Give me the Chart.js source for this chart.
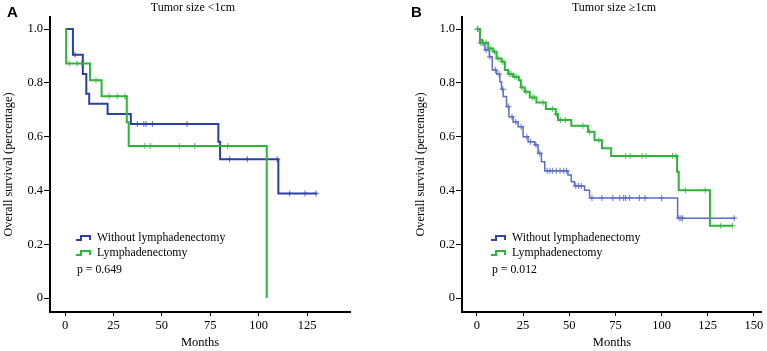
<!DOCTYPE html>
<html>
<head>
<meta charset="utf-8">
<script src="https://cdn.jsdelivr.net/npm/chart.js@4"></script>
<style>
html,body{margin:0;padding:0;background:#fff;}
body{width:767px;height:351px;position:relative;overflow:hidden;}
.panel{position:absolute;top:0;height:351px;}
#pa{left:0;width:383px;}
#pb{left:383px;width:384px;}
</style>
</head>
<body>
<div class="panel" id="pa"><canvas id="ca"></canvas></div>
<div class="panel" id="pb"><canvas id="cb"></canvas></div>
<script>
// ---------- DATA ----------
const seriesNames = ["Without lymphadenectomy", "Lymphadenectomy"];
const panelTitles = ["Tumor size <1cm", "Tumor size \u22651cm"];
const panelLetters = ["A", "B"];
const pValues = ["p = 0.649", "p = 0.012"];
const xTicksA = [0, 25, 50, 75, 100, 125];
const xTicksB = [0, 25, 50, 75, 100, 125, 150];
const yTicks = [0, 0.2, 0.4, 0.6, 0.8, 1.0];

// Panel A, without lymphadenectomy (event times, survival after event)
const aBlueT = [0, 4.1, 9.2, 11, 12.5, 22, 34, 79.2, 80.1, 110.2, 130];
const aBlueS = [1, 0.905, 0.833, 0.76, 0.722, 0.684, 0.647, 0.581, 0.516, 0.389, 0.389];
const aBlueCensor = [5.2, 37.4, 40.7, 41.9, 45.2, 63, 85, 94.2, 109.6, 116, 124, 129.7];
// Panel A, lymphadenectomy
const aGreenT = [0, 0.6, 12.9, 18.9, 31.9, 32.9, 104.2];
const aGreenS = [1, 0.872, 0.81, 0.75, 0.654, 0.565, 0];
const aGreenCensor = [2.2, 6.3, 8.6, 16, 22.8, 27, 31, 41.2, 44, 59.1, 67, 84];

// Panel B, without lymphadenectomy
const bBlueT = [0, 1.6, 2.9, 4.3, 6.7, 8.3, 10.6, 12.4, 13.3, 14.2, 16, 17.3, 19.6, 22.3, 25, 27.7, 31.3, 33.1, 34.9, 36.7, 49.3, 51.1, 52.9, 58.3, 61, 108.7, 140];
const bBlueS = [1, 0.96, 0.947, 0.922, 0.897, 0.848, 0.833, 0.804, 0.776, 0.749, 0.712, 0.674, 0.655, 0.637, 0.6, 0.581, 0.569, 0.538, 0.507, 0.473, 0.457, 0.432, 0.417, 0.401, 0.372, 0.297, 0.297];
const bBlueCensor = [0.3, 3, 5, 7, 10, 12, 14, 17, 19, 21, 24, 27, 29, 32, 34, 38, 39.5, 41, 43, 45, 47, 48.5, 53.5, 55, 56.5, 62.3, 67.7, 73.6, 77.4, 79.4, 80.5, 82.6, 88, 91, 100, 109.5, 110.5, 111.3, 139.3];
// Panel B, lymphadenectomy
const bGreenT = [0, 1.6, 6.1, 8.8, 10.6, 13.3, 15.1, 16.9, 19.6, 22.7, 23.8, 25.9, 28.6, 32.2, 37.3, 42.7, 43.9, 51.1, 60.1, 63.7, 67.7, 72.7, 108.4, 109.3, 126.2, 138.4];
const bGreenS = [1, 0.949, 0.928, 0.916, 0.891, 0.879, 0.848, 0.833, 0.823, 0.81, 0.783, 0.767, 0.746, 0.727, 0.703, 0.683, 0.662, 0.641, 0.618, 0.587, 0.557, 0.528, 0.47, 0.401, 0.269, 0.269];
const bGreenCensor = [0.5, 2, 3.5, 5, 7.5, 9.5, 11.5, 14, 17.5, 18.5, 20.5, 21.5, 24.5, 26.5, 30, 31, 35.8, 40.9, 43, 45.2, 48, 57.4, 61, 66, 80.5, 83, 89.5, 91.6, 106, 107.8, 112.9, 123.7, 132, 138.4];

// ---------- HELPERS ----------
function stepPoints(T, S) { return T.map((t, i) => ({x: t, y: S[i]})); }
function levelAt(T, S, t) {
  let v = S[0];
  for (let i = 0; i < T.length; i++) { if (T[i] <= t) v = S[i]; }
  return v;
}
function censorPoints(T, S, C) { return C.map(t => ({x: t, y: levelAt(T, S, t)})); }

const FONT = "'Liberation Serif', 'Times New Roman', serif";

function makeChart(id, cfg) {
  const annot = {
    id: 'annot',
    afterDraw(chart) {
      const ctx = chart.ctx;
      ctx.save();
      ctx.fillStyle = '#000';
      ctx.font = "bold 15px 'Liberation Sans', Arial, sans-serif";
      ctx.textAlign = 'left'; ctx.textBaseline = 'middle';
      ctx.fillText(cfg.letter, cfg.letterX, 13);
      ctx.font = "12px " + FONT;
      ctx.textAlign = 'center';
      ctx.fillText(cfg.title, cfg.titleX, 8);
      const rows = [[cfg.blueLegend, seriesNames[0]], [cfg.greenLegend, seriesNames[1]]];
      const rowY = [238, 253];
      rows.forEach((r, i) => {
        const y = rowY[i], x0 = cfg.iconX;
        ctx.strokeStyle = r[0]; ctx.lineWidth = 2;
        ctx.beginPath();
        ctx.moveTo(x0, y + 2); ctx.lineTo(x0 + 5, y + 2); ctx.lineTo(x0 + 5, y - 2);
        ctx.lineTo(x0 + 14, y - 2); ctx.lineTo(x0 + 14, y + 2);
        ctx.stroke();
        ctx.font = "11.8px " + FONT;
        ctx.textAlign = 'left';
        ctx.fillText(r[1], cfg.iconX + 21, y);
      });
      ctx.font = "11.8px " + FONT;
      ctx.fillText(cfg.p, cfg.iconX + 1, 270);
      ctx.restore();
    }
  };
  return new Chart(document.getElementById(id), {
    type: 'line',
    data: {
      datasets: [
        {data: stepPoints(cfg.gT, cfg.gS), borderColor: cfg.green, borderWidth: 2, stepped: 'before', pointRadius: 0, fill: false},
        {data: censorPoints(cfg.gT, cfg.gS, cfg.gC), showLine: false, pointStyle: 'cross', pointRadius: 3, pointBorderWidth: 1.2, pointBorderColor: cfg.greenC, pointBackgroundColor: cfg.greenC},
        {data: stepPoints(cfg.bT, cfg.bS), borderColor: cfg.blue, borderWidth: cfg.blueW, stepped: 'before', pointRadius: 0, fill: false},
        {data: censorPoints(cfg.bT, cfg.bS, cfg.bC), showLine: false, pointStyle: 'cross', pointRadius: 3, pointBorderWidth: 1.2, pointBorderColor: cfg.blueC, pointBackgroundColor: cfg.blueC}
      ]
    },
    options: {
      responsive: true, maintainAspectRatio: false, animation: false,
      layout: {padding: {left: cfg.padL, right: cfg.padR, top: 17, bottom: 0}},
      plugins: {legend: {display: false}, tooltip: {enabled: false}, title: {display: false}},
      scales: {
        x: {
          type: 'linear', min: cfg.xMin, max: cfg.xMax,
          afterBuildTicks: s => { s.ticks = cfg.xTicks.map(v => ({value: v})); },
          afterFit: s => { s.height = 39; },
          ticks: {font: {family: FONT, size: 12.5}, color: '#000', padding: 2, maxRotation: 0, autoSkip: false},
          grid: {drawOnChartArea: false, drawTicks: true, tickLength: 4, color: '#000', lineWidth: 1},
          border: {display: true, color: '#000', width: 2},
          title: {display: true, text: 'Months', font: {family: FONT, size: 12.5}, color: '#000', padding: {top: 0, bottom: 1}}
        },
        y: {
          type: 'linear', min: -0.052, max: 1.045,
          afterBuildTicks: s => { s.ticks = yTicks.map(v => ({value: v})); },
          afterFit: s => { s.width = 50; },
          ticks: {font: {family: FONT, size: 12.5}, color: '#000', padding: 1,
                  callback: v => (v === 0 ? '0' : v.toFixed(1))},
          grid: {drawOnChartArea: false, drawTicks: true, tickLength: 6, color: '#000', lineWidth: 1},
          border: {display: true, color: '#000', width: 2},
          title: {display: true, text: 'Overall survival (percentage)', font: {family: FONT, size: 12.3}, color: '#000', padding: {top: 1.5, bottom: 0}}
        }
      }
    },
    plugins: [annot]
  });
}

makeChart('ca', {
  letter: panelLetters[0], letterX: 7, title: panelTitles[0], titleX: 193, p: pValues[0],
  iconX: 76, padL: 0, padR: 33, xMin: -7.75, xMax: 147.2, xTicks: xTicksA,
  bT: aBlueT, bS: aBlueS, bC: aBlueCensor, gT: aGreenT, gS: aGreenS, gC: aGreenCensor,
  blue: '#2c3ea8', blueW: 2, blueC: 'rgba(70,90,190,0.75)', green: '#2db53a', greenC: 'rgba(60,185,75,0.75)',
  blueLegend: '#2c3ea8', greenLegend: '#2db53a'
});
makeChart('cb', {
  letter: panelLetters[1], letterX: 28, title: panelTitles[1], titleX: 231, p: pValues[1],
  iconX: 108, padL: 29, padR: 4, xMin: -8.1, xMax: 154.3, xTicks: xTicksB,
  bT: bBlueT, bS: bBlueS, bC: bBlueCensor, gT: bGreenT, gS: bGreenS, gC: bGreenCensor,
  blue: '#5a6cc6', blueW: 1.5, blueC: 'rgba(90,108,198,0.8)', green: '#2db53a', greenC: 'rgba(60,185,75,0.75)',
  blueLegend: '#3447b0', greenLegend: '#2db53a'
});
</script>
</body>
</html>
